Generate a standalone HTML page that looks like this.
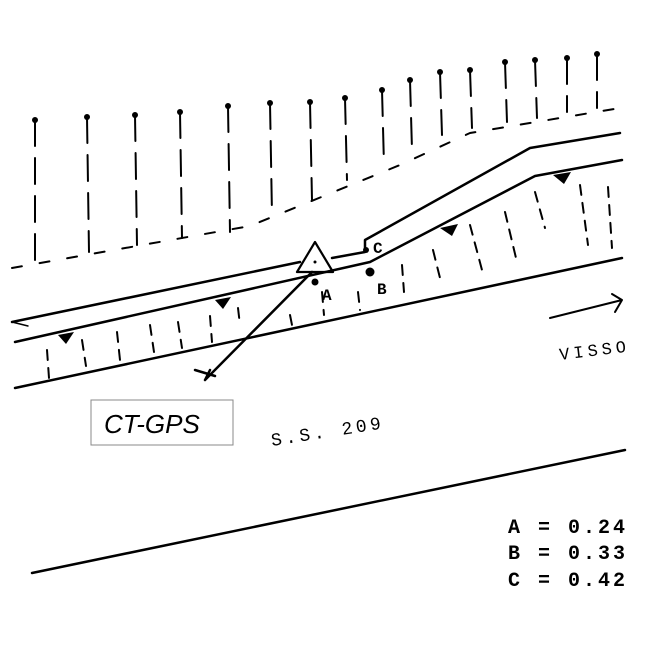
<!DOCTYPE html>
<html><head><meta charset="utf-8"><style>body{margin:0;background:#fff}svg{display:block}</style></head><body>
<svg width="649" height="649" viewBox="0 0 649 649" xmlns="http://www.w3.org/2000/svg">
<g stroke="#000" stroke-width="2.5" fill="none" stroke-linecap="round" stroke-linejoin="round">
<path d="M12,322 L300,262 M332,258 L365,252 L365,240 L530,148 L620,133"/>
<path d="M15,342 L370,262 L535,176 L622,160"/>
<path d="M15,388 L622,258"/>
<path d="M32,573 L625,450"/>
<path d="M205,380 L312,272 M195,370 L215,376 M205,380 L210,370"/>
<path d="M315,242 L297,272 L333,272 Z" stroke-width="2.2"/>
<path d="M12,268 L250,226 L400,165 L470,133 L620,108" stroke-dasharray="10,18" stroke-width="2"/>
<path d="M12,322 L28,326" stroke-width="1.5"/>
<path d="M550,318 L622,300 M612,294 L622,300 L615,312" stroke-width="2"/>
</g>
<g stroke="#000" stroke-width="2" stroke-dasharray="26,12" stroke-linecap="round">
<line x1="35" y1="120" x2="35" y2="262"/><line x1="87" y1="117" x2="89" y2="252"/>
<line x1="135" y1="115" x2="137" y2="245"/><line x1="180" y1="112" x2="182" y2="238"/>
<line x1="228" y1="106" x2="230" y2="232"/><line x1="270" y1="103" x2="272" y2="215"/>
<line x1="310" y1="102" x2="312" y2="200"/><line x1="345" y1="98" x2="347" y2="180"/>
<line x1="382" y1="90" x2="384" y2="165"/><line x1="410" y1="80" x2="412" y2="150"/>
<line x1="440" y1="72" x2="442" y2="135"/><line x1="470" y1="70" x2="472" y2="128"/>
<line x1="505" y1="62" x2="507" y2="122"/><line x1="535" y1="60" x2="537" y2="118"/>
<line x1="567" y1="58" x2="567" y2="112"/><line x1="597" y1="54" x2="597" y2="108"/>
</g>
<g fill="#000">
<circle cx="35" cy="120" r="3"/><circle cx="87" cy="117" r="3"/><circle cx="135" cy="115" r="3"/><circle cx="180" cy="112" r="3"/><circle cx="228" cy="106" r="3"/><circle cx="270" cy="103" r="3"/><circle cx="310" cy="102" r="3"/><circle cx="345" cy="98" r="3"/><circle cx="382" cy="90" r="3"/><circle cx="410" cy="80" r="3"/><circle cx="440" cy="72" r="3"/><circle cx="470" cy="70" r="3"/><circle cx="505" cy="62" r="3"/><circle cx="535" cy="60" r="3"/><circle cx="567" cy="58" r="3"/><circle cx="597" cy="54" r="3"/>
<circle cx="315" cy="282" r="3.5"/><circle cx="370" cy="272" r="4.5"/><circle cx="366" cy="250" r="3"/><circle cx="315" cy="262" r="1.5"/>
<path d="M58,335 L74,332 L66,344Z"/><path d="M215,300 L231,297 L223,309Z"/><path d="M440,228 L458,224 L452,236Z"/><path d="M553,175 L571,172 L564,184Z"/>
</g>
<g stroke="#000" stroke-width="2" stroke-dasharray="10,8" stroke-linecap="round">
<line x1="47" y1="350" x2="49" y2="378"/><line x1="82" y1="340" x2="86" y2="366"/><line x1="117" y1="332" x2="120" y2="360"/><line x1="150" y1="325" x2="154" y2="352"/><line x1="178" y1="322" x2="182" y2="348"/><line x1="210" y1="316" x2="212" y2="342"/><line x1="238" y1="308" x2="240" y2="325"/><line x1="290" y1="315" x2="292" y2="325"/><line x1="322" y1="292" x2="324" y2="315"/><line x1="358" y1="292" x2="360" y2="310"/><line x1="402" y1="265" x2="404" y2="292"/><line x1="433" y1="250" x2="441" y2="282"/><line x1="470" y1="225" x2="482" y2="270"/><line x1="505" y1="212" x2="516" y2="258"/><line x1="535" y1="192" x2="545" y2="228"/><line x1="580" y1="185" x2="588" y2="245"/><line x1="608" y1="187" x2="612" y2="248"/>
</g>
<rect x="91" y="400" width="142" height="45" fill="#fff" stroke="#888" stroke-width="1"/>
<text x="104" y="433" font-family="Liberation Sans,sans-serif" font-style="italic" font-size="26">CT-GPS</text>
<text x="272" y="446" font-family="Liberation Mono,monospace" font-size="18" letter-spacing="3.5" transform="rotate(-9 272 446)">S.S. 209</text>
<text x="560" y="360" font-family="Liberation Mono,monospace" font-size="17" letter-spacing="4" transform="rotate(-7 560 360)">VISSO</text>
<text x="322" y="300" font-family="Liberation Mono,monospace" font-weight="bold" font-size="16">A</text>
<text x="377" y="294" font-family="Liberation Mono,monospace" font-weight="bold" font-size="16">B</text>
<text x="373" y="253" font-family="Liberation Mono,monospace" font-weight="bold" font-size="16">C</text>
<g font-family="Liberation Mono,monospace" font-weight="bold" font-size="20" letter-spacing="3">
<text x="508" y="533">A = 0.24</text><text x="508" y="559">B = 0.33</text><text x="508" y="586">C = 0.42</text>
</g>
</svg>
</body></html>
